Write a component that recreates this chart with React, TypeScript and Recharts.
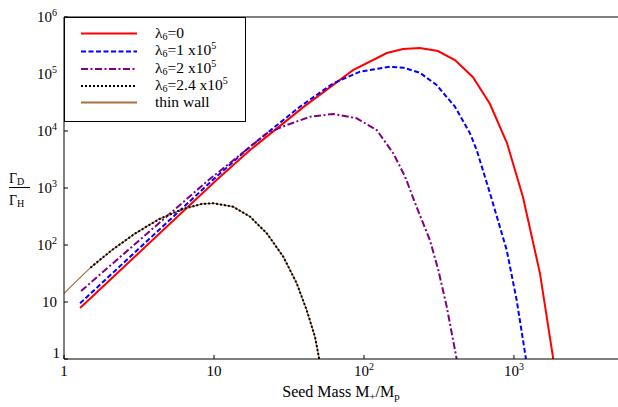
import React from "react";
import { LineChart, Line, XAxis, YAxis, ReferenceLine } from "recharts";

type P = { x: number; y: number };

const lam0: P[] = [
  { x: 1.28, y: 7.85 }, { x: 10.4, y: 1380 }, { x: 17.4, y: 4640 }, { x: 39.2, y: 26000 },
  { x: 84.5, y: 117000 }, { x: 142, y: 233000 }, { x: 182, y: 275000 }, { x: 236, y: 286000 },
  { x: 311, y: 253000 }, { x: 404, y: 176000 }, { x: 533, y: 88000 }, { x: 692, y: 29700 },
  { x: 898, y: 6150 }, { x: 1150, y: 680 }, { x: 1490, y: 31.8 }, { x: 1828, y: 1 },
];
const lam1: P[] = [
  { x: 1.28, y: 9.5 }, { x: 9.8, y: 1380 }, { x: 17.4, y: 5300 }, { x: 37.4, y: 26700 },
  { x: 62.4, y: 68700 }, { x: 94.1, y: 110000 }, { x: 149, y: 134000 }, { x: 183, y: 129000 },
  { x: 236, y: 105000 }, { x: 305, y: 64000 }, { x: 404, y: 26700 }, { x: 509, y: 9100 },
  { x: 564, y: 4640 }, { x: 692, y: 807 }, { x: 894, y: 81.7 }, { x: 1042, y: 10.8 }, { x: 1202, y: 1 },
];
const lam2: P[] = [
  { x: 1.3, y: 15.6 }, { x: 9.2, y: 1380 }, { x: 14.9, y: 3800 }, { x: 22.5, y: 9100 },
  { x: 30.5, y: 12700 }, { x: 43.7, y: 17800 }, { x: 62.4, y: 19900 }, { x: 89.4, y: 16700 },
  { x: 121.6, y: 10400 }, { x: 157, y: 4040 }, { x: 188, y: 1578 }, { x: 224, y: 470 },
  { x: 275, y: 122 }, { x: 313, y: 36.4 }, { x: 356, y: 8.3 }, { x: 415, y: 1 },
];
const lam24: P[] = [
  { x: 1.5, y: 40 }, { x: 2.09, y: 81.7 }, { x: 2.99, y: 160 }, { x: 4.28, y: 282 },
  { x: 6.12, y: 423 }, { x: 8.3, y: 525 }, { x: 9.9, y: 540 }, { x: 13.4, y: 470 },
  { x: 17.4, y: 314 }, { x: 22.5, y: 160 }, { x: 29, y: 62 }, { x: 35.6, y: 21.3 },
  { x: 41.5, y: 7.2 }, { x: 47.1, y: 2.46 }, { x: 50.3, y: 1 },
];
const thinWall: P[] = [
  { x: 1, y: 14.2 }, { x: 1.5, y: 40 }, { x: 2.09, y: 81.7 }, { x: 2.99, y: 160 }, { x: 4.28, y: 282 },
  { x: 6.12, y: 423 }, { x: 8.3, y: 525 }, { x: 9.9, y: 540 }, { x: 13.4, y: 470 },
  { x: 17.4, y: 314 }, { x: 22.5, y: 160 }, { x: 29, y: 62 }, { x: 35.6, y: 21.3 },
  { x: 41.5, y: 7.2 }, { x: 47.1, y: 2.46 }, { x: 50.3, y: 1 },
];

const xTicks = [1, 10, 100, 1000];
const yTicks = [1, 10, 100, 1000, 10000, 100000, 1000000];

const FONT = "'Liberation Serif', 'DejaVu Serif', serif";
const W = 618;
const H = 407;
const PLOT_LEFT = 64;
const PLOT_TOP = 17;
const PLOT_BOTTOM = 359;

const COLORS = {
  red: "#ff0000",
  blue: "#0000ff",
  purple: "#800080",
  black: "#000000",
  brown: "#a8703f",
};

function expOf(v: number) {
  return Math.round(Math.log10(v));
}

const XTick = (props: any) => {
  const { x, payload } = props;
  const e = expOf(payload.value);
  return (
    <g>
      <line x1={x} x2={x} y1={PLOT_BOTTOM} y2={PLOT_BOTTOM - 4} stroke="#000" strokeWidth={1} />
      <text x={x} y={376} textAnchor="middle" fontFamily={FONT} fontSize={15} fill="#000">
        {e === 0 ? "1" : e === 1 ? "10" : (
          <>
            <tspan>10</tspan>
            <tspan dy={-6} fontSize={10}>{e}</tspan>
          </>
        )}
      </text>
    </g>
  );
};

const YTick = (props: any) => {
  const { y, payload } = props;
  const e = expOf(payload.value);
  return (
    <g>
      <line x1={PLOT_LEFT} x2={PLOT_LEFT + 4} y1={y} y2={y} stroke="#000" strokeWidth={1} />
      {e === 0 ? (
        <text x={60} y={y - 1} textAnchor="end" fontFamily={FONT} fontSize={15} fill="#000">1</text>
      ) : e === 1 ? (
        <text x={57} y={y + 5} textAnchor="end" fontFamily={FONT} fontSize={15} fill="#000">10</text>
      ) : (
        <text x={57} y={y + 5} textAnchor="end" fontFamily={FONT} fontSize={15} fill="#000">
          <tspan>10</tspan>
          <tspan dy={-6} fontSize={10}>{e}</tspan>
        </text>
      )}
    </g>
  );
};

const XLabel = () => (
  <text x={341} y={397} textAnchor="middle" fontFamily={FONT} fontSize={16} fill="#000">
    <tspan>Seed Mass M</tspan>
    <tspan dy={3} fontSize={11}>+</tspan>
    <tspan dy={-3}>/M</tspan>
    <tspan dy={3} fontSize={11}>p</tspan>
  </text>
);

const YLabel = () => (
  <g fontFamily={FONT} fill="#000">
    <text x={9} y={183} fontSize={14}>
      <tspan>Γ</tspan>
      <tspan dy={2} fontSize={10}>D</tspan>
    </text>
    <line x1={9} x2={30} y1={187.5} y2={187.5} stroke="#000" strokeWidth={1} />
    <text x={9} y={205} fontSize={14}>
      <tspan>Γ</tspan>
      <tspan dy={2} fontSize={10}>H</tspan>
    </text>
  </g>
);

const legendItems = [
  { color: COLORS.red, dash: undefined as string | undefined, width: 2, label: "=0", exp: "" },
  { color: COLORS.blue, dash: "5 2.5", width: 2, label: "=1 x10", exp: "5" },
  { color: COLORS.purple, dash: "7 2.5 2 2.5", width: 2, label: "=2 x10", exp: "5" },
  { color: COLORS.black, dash: "2 2", width: 2, label: "=2.4 x10", exp: "5" },
  { color: COLORS.brown, dash: undefined as string | undefined, width: 2, label: "thin wall", exp: "" },
];

const lineYs = [16.5, 34.5, 52, 69, 85.5];
const textYs = [21, 38, 55.5, 73, 89.5];

const LegendBox = () => (
  <svg
    width={182}
    height={105}
    style={{ position: "absolute", left: PLOT_LEFT, top: PLOT_TOP, overflow: "visible" }}
  >
    <rect x={0.5} y={0.5} width={181} height={104} fill="#fff" stroke="#000" strokeWidth={1} />
    {legendItems.map((it, i) => (
      <g key={i}>
        <line
          x1={17}
          x2={73}
          y1={lineYs[i]}
          y2={lineYs[i]}
          stroke={it.color}
          strokeWidth={it.width}
          strokeDasharray={it.dash}
        />
        <text x={91} y={textYs[i]} fontFamily={FONT} fontSize={15.5} fill="#000">
          {i === 4 ? (
            it.label
          ) : (
            <>
              <tspan>λ</tspan>
              <tspan dy={2} fontSize={10}>6</tspan>
              <tspan dy={-2}>{it.label}</tspan>
              {it.exp ? <tspan dy={-6} fontSize={10}>{it.exp}</tspan> : null}
            </>
          )}
        </text>
      </g>
    ))}
  </svg>
);

export default function App() {
  return (
    <div style={{ position: "absolute", left: 0, top: 0, width: W, height: H, background: "#fff" }}>
      <LineChart width={W} height={H} margin={{ top: PLOT_TOP, right: 0, left: 0, bottom: 0 }}>
        <XAxis
          type="number"
          dataKey="x"
          scale="log"
          domain={[1, 4937]}
          allowDataOverflow
          ticks={xTicks}
          tick={<XTick />}
          tickLine={false}
          axisLine={{ stroke: "#000", strokeWidth: 1 }}
          height={48}
          label={<XLabel />}
        />
        <YAxis
          type="number"
          dataKey="y"
          scale="log"
          domain={[1, 1000000]}
          allowDataOverflow
          ticks={yTicks}
          tick={<YTick />}
          tickLine={false}
          axisLine={{ stroke: "#000", strokeWidth: 1 }}
          width={64}
          label={<YLabel />}
        />
        <ReferenceLine y={1000000} stroke="#555" strokeWidth={1.5} />
        <Line data={lam0} dataKey="y" type="linear" stroke={COLORS.red} strokeWidth={2} dot={false} isAnimationActive={false} />
        <Line data={lam1} dataKey="y" type="linear" stroke={COLORS.blue} strokeWidth={2} strokeDasharray="5 2.5" dot={false} isAnimationActive={false} />
        <Line data={lam2} dataKey="y" type="linear" stroke={COLORS.purple} strokeWidth={2} strokeDasharray="7 2.5 2 2.5" dot={false} isAnimationActive={false} />
        <Line data={thinWall} dataKey="y" type="linear" stroke={COLORS.brown} strokeWidth={1.2} dot={false} isAnimationActive={false} />
        <Line data={lam24} dataKey="y" type="linear" stroke={COLORS.black} strokeWidth={2} strokeDasharray="2 2" dot={false} isAnimationActive={false} />
      </LineChart>
      <LegendBox />
    </div>
  );
}
